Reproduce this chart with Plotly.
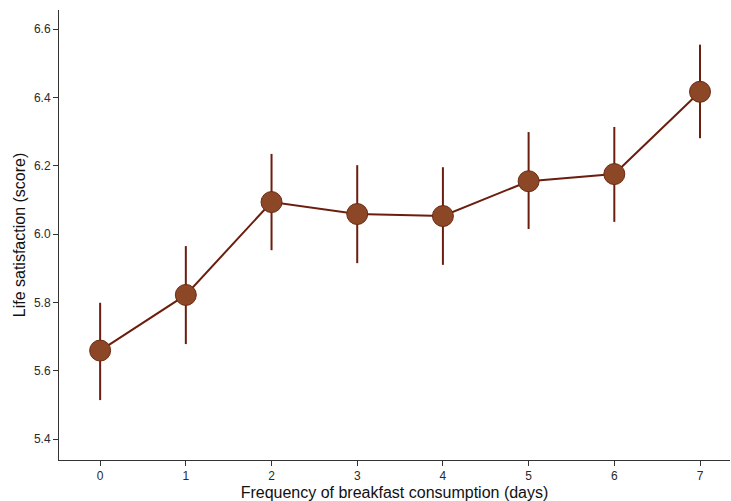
import plotly.graph_objects as go

days = [0, 1, 2, 3, 4, 5, 6, 7]
mean_score = [5.659, 5.822, 6.094, 6.059, 6.053, 6.155, 6.176, 6.417]
upper_ci = [5.799, 5.965, 6.235, 6.202, 6.196, 6.299, 6.314, 6.555]
lower_ci = [5.514, 5.678, 5.953, 5.915, 5.910, 6.015, 6.036, 6.281]
y_ticks = [5.4, 5.6, 5.8, 6.0, 6.2, 6.4, 6.6]
y_tick_labels = ["5.4", "5.6", "5.8", "6.0", "6.2", "6.4", "6.6"]

err_plus = [u - m for u, m in zip(upper_ci, mean_score)]
err_minus = [m - l for m, l in zip(mean_score, lower_ci)]

line_col = "#6B1E0E"
fill_col = "#8B4726"

fig = go.Figure()
fig.add_trace(go.Scatter(
    x=days, y=mean_score, mode="lines+markers",
    line=dict(color=line_col, width=2),
    marker=dict(size=21, color=fill_col, line=dict(color="#6E2A12", width=1)),
    error_y=dict(type="data", symmetric=False, array=err_plus, arrayminus=err_minus,
                 color=line_col, thickness=2, width=0),
    showlegend=False,
))

font_family = "Liberation Sans, Arial, sans-serif"
fig.update_layout(
    width=731, height=501,
    margin=dict(l=59, r=1, t=10, b=41, autoexpand=False),
    paper_bgcolor="white", plot_bgcolor="white",
    font=dict(family=font_family, color="#222222"),
    xaxis=dict(
        range=[-0.48, 7.35], tickmode="array", tickvals=days,
        ticktext=[str(d) for d in days],
        showgrid=False, zeroline=False, showline=True, linecolor="#333333", linewidth=1,
        ticks="outside", ticklen=5, tickcolor="#333333", automargin=False,
        tickfont=dict(size=12, color="#2a2a2a"),
        title=dict(text="Frequency of breakfast consumption (days)", font=dict(size=16, color="#111111"), standoff=4),
    ),
    yaxis=dict(
        range=[5.3385, 6.6565], tickmode="array", tickvals=y_ticks, ticktext=y_tick_labels,
        showgrid=False, zeroline=False, showline=True, linecolor="#333333", linewidth=1,
        ticks="outside", ticklen=5, tickcolor="#333333", automargin=False,
        tickfont=dict(size=12, color="#2a2a2a"),
        title=dict(text="Life satisfaction (score)", font=dict(size=16, color="#111111"), standoff=4),
    ),
)

fig.write_html("out.html", config={"displayModeBar": False},
               post_script="document.body.style.margin='0';document.body.style.padding='0';")
